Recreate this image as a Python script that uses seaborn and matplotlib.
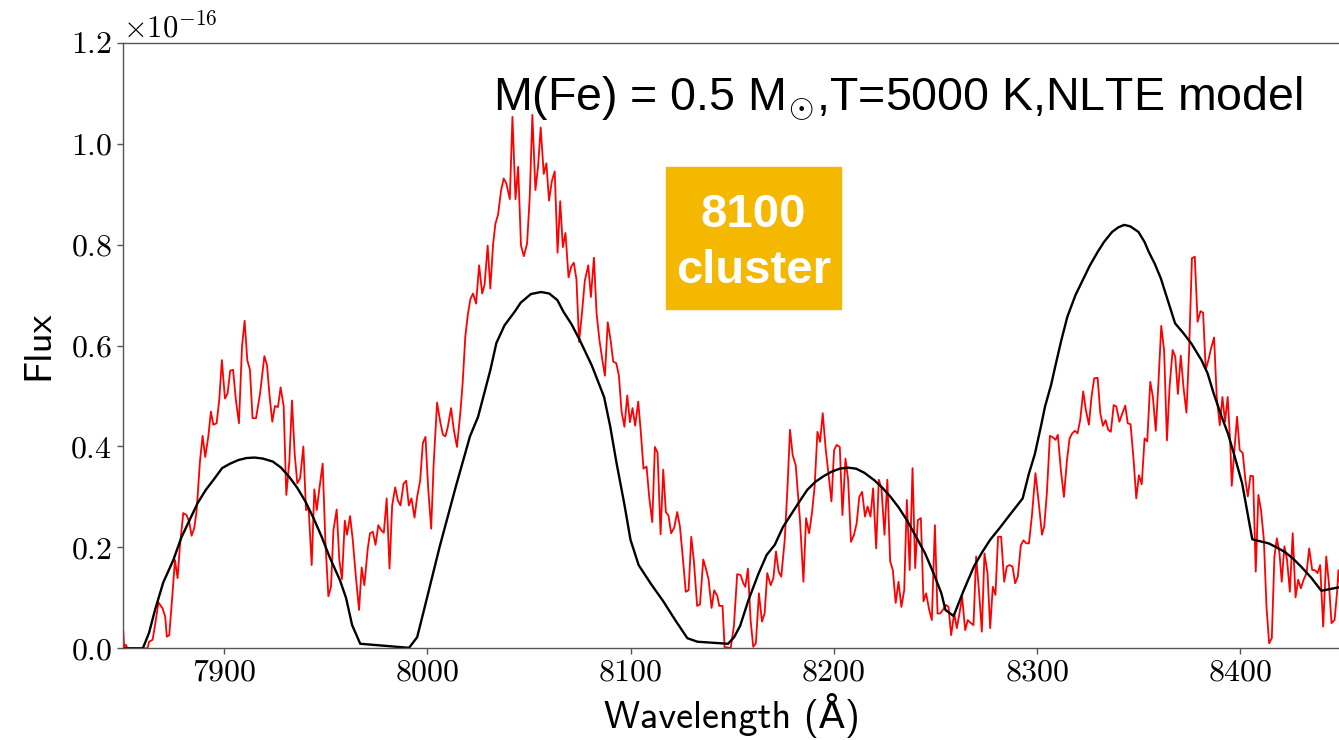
import numpy as np
import matplotlib
matplotlib.use('Agg')
import matplotlib.pyplot as plt
from matplotlib.patches import Rectangle
import seaborn as sns

# observed spectrum (flux in units of 1e-16)
wave_obs = [
    7850.0, 7850.8, 7851.6, 7852.4, 7862.3, 7863.1, 7864.8, 7865.9, 7867.7, 7869.7,
    7871.0, 7871.8, 7873.0, 7874.6, 7875.8, 7877.1, 7878.2, 7879.9, 7881.5, 7882.8,
    7884.0, 7885.3, 7886.5, 7888.1, 7889.4, 7890.7, 7892.2, 7893.5, 7894.7, 7896.3,
    7897.6, 7898.9, 7900.4, 7901.7, 7903.0, 7904.4, 7905.8, 7907.3, 7908.8, 7910.1,
    7911.4, 7912.7, 7914.0, 7915.7, 7917.7, 7919.8, 7921.1, 7922.4, 7923.7, 7925.0,
    7926.5, 7927.8, 7929.3, 7930.6, 7932.1, 7933.4, 7934.7, 7936.0, 7937.4, 7939.0,
    7940.3, 7941.6, 7943.1, 7944.4, 7945.6, 7946.9, 7948.5, 7949.8, 7951.3, 7952.6,
    7953.8, 7955.4, 7956.7, 7958.0, 7959.4, 7960.5, 7962.0, 7963.3, 7964.9, 7966.4,
    7967.7, 7969.0, 7970.7, 7971.8, 7973.2, 7974.5, 7975.9, 7977.3, 7978.6, 7980.0,
    7981.4, 7982.7, 7984.2, 7985.5, 7986.8, 7988.3, 7989.6, 7990.9, 7992.2, 7993.7,
    7995.0, 7996.5, 7997.8, 7999.1, 8000.4, 8001.9,
    8003.1, 8004.8, 8006.4, 8007.7, 8008.9, 8010.0, 8011.7, 8013.0, 8014.6, 8016.3,
    8017.4, 8018.7, 8019.9, 8021.2, 8022.5, 8024.0, 8025.5, 8027.0, 8028.2, 8029.7,
    8031.0, 8032.4, 8033.5, 8034.8, 8036.3, 8037.6, 8038.9, 8040.6, 8041.9, 8043.4,
    8044.7, 8046.1, 8047.5, 8049.1, 8050.4, 8051.7, 8053.2, 8054.5, 8055.8, 8057.3,
    8058.6, 8059.9, 8061.3, 8062.7, 8064.1, 8065.4, 8066.7, 8068.0, 8069.5, 8070.8,
    8072.1, 8073.4, 8074.7, 8076.2, 8077.5, 8079.2, 8080.5, 8082.0, 8083.3, 8084.7,
    8086.0, 8087.4, 8088.8, 8090.2, 8091.5, 8093.0, 8094.3, 8095.6, 8097.0, 8098.4,
    8099.7, 8101.0, 8102.3, 8103.8, 8105.1, 8106.4, 8107.9, 8109.2, 8110.7, 8112.0,
    8113.3, 8114.8, 8116.1, 8117.4, 8118.7, 8120.0, 8121.5, 8123.0, 8124.3, 8125.6,
    8127.2, 8128.6, 8129.9, 8131.2, 8132.8, 8134.2, 8135.8, 8137.1, 8138.4, 8139.9,
    8141.2, 8142.7, 8143.7, 8145.3, 8146.3, 8147.6, 8149.3, 8150.9, 8152.5,
    8154.2, 8155.5, 8156.5, 8157.8, 8159.1, 8160.4, 8161.7, 8163.2, 8164.7, 8166.0,
    8167.3, 8169.0, 8170.3, 8171.6, 8172.9, 8174.2, 8175.9, 8177.2, 8178.5, 8179.8,
    8181.3, 8183.4, 8185.1, 8186.4, 8187.9, 8189.3, 8190.6, 8192.0, 8193.3, 8194.6,
    8196.1, 8197.4, 8198.9, 8200.2, 8201.5, 8203.0, 8204.3, 8205.8, 8207.1, 8208.5,
    8210.0, 8211.3, 8212.6, 8214.0, 8215.4, 8216.7, 8218.1, 8219.4, 8220.9, 8222.2,
    8223.5, 8225.0, 8226.4, 8227.8, 8229.1, 8230.5, 8231.9, 8233.3, 8234.7, 8236.0,
    8237.4, 8238.8, 8240.1, 8241.4, 8242.9, 8244.2, 8245.5, 8247.0, 8248.3, 8249.8,
    8251.1, 8252.4, 8253.7, 8255.2, 8256.5, 8257.8, 8259.3, 8260.6, 8261.9, 8263.2,
    8264.7, 8266.0, 8267.5, 8268.8, 8270.1, 8271.6, 8272.9, 8274.2, 8275.7, 8277.0,
    8278.3, 8279.6, 8280.9, 8282.4, 8283.9, 8285.2, 8286.5, 8288.0, 8289.3, 8290.6,
    8292.1, 8293.4, 8294.8, 8296.1, 8297.5,
    8299.3, 8301.1, 8302.5, 8303.6, 8304.9, 8306.4, 8307.9, 8309.2, 8310.3, 8311.8,
    8313.3, 8314.8, 8316.1, 8317.4, 8318.7, 8320.0, 8321.3, 8322.8, 8324.1, 8325.6,
    8326.9, 8328.2, 8329.9, 8331.2, 8332.5, 8333.8, 8335.1, 8336.4, 8337.8, 8339.1,
    8340.6, 8341.9, 8343.5, 8344.7, 8346.1, 8347.6, 8348.9, 8350.2, 8351.6, 8353.0,
    8354.3, 8355.8, 8357.1, 8358.5, 8359.8, 8361.2, 8362.6, 8364.0, 8365.3, 8366.8,
    8368.1, 8369.4, 8370.8, 8372.2, 8373.6, 8374.9, 8376.3, 8377.7, 8379.1, 8380.5,
    8381.8, 8383.1, 8384.4, 8385.7, 8387.2, 8388.5, 8390.0, 8391.3, 8392.6, 8393.9,
    8395.2, 8395.9, 8397.2, 8398.5, 8399.8, 8401.3, 8402.6, 8403.8, 8405.1, 8406.4,
    8407.7, 8409.0, 8410.3, 8411.7, 8413.0, 8414.3, 8415.6, 8416.9, 8418.1, 8419.4,
    8420.5, 8421.8, 8423.1, 8424.5, 8425.9, 8427.3, 8428.6, 8429.9, 8431.2, 8432.7,
    8434.0, 8435.5, 8436.8, 8438.1, 8439.4, 8440.9, 8442.4, 8443.7, 8445.0, 8446.5,
    8447.8, 8448.4, 8449.3,
]
flux_obs = [
    0.060, 0.003, 0.007, 0.000, 0.000, 0.013, 0.017, 0.043, 0.091, 0.079,
    0.063, 0.023, 0.026, 0.109, 0.175, 0.139, 0.201, 0.268, 0.264, 0.251,
    0.223, 0.238, 0.274, 0.370, 0.421, 0.379, 0.419, 0.469, 0.443, 0.446,
    0.492, 0.571, 0.495, 0.505, 0.550, 0.552, 0.492, 0.446, 0.598, 0.649,
    0.571, 0.552, 0.456, 0.456, 0.505, 0.579, 0.561, 0.499, 0.449, 0.480,
    0.478, 0.517, 0.480, 0.304, 0.370, 0.491, 0.387, 0.327, 0.337, 0.400,
    0.274, 0.277, 0.165, 0.315, 0.274, 0.317, 0.366, 0.215, 0.103, 0.122,
    0.234, 0.275, 0.175, 0.137, 0.253, 0.225, 0.262, 0.215, 0.139, 0.076,
    0.160, 0.125, 0.198, 0.228, 0.231, 0.205, 0.244, 0.234, 0.229, 0.297,
    0.158, 0.283, 0.319, 0.293, 0.283, 0.326, 0.332, 0.283, 0.297, 0.259,
    0.300, 0.333, 0.407, 0.419, 0.319, 0.237,
    0.363, 0.487, 0.448, 0.423, 0.420, 0.437, 0.476, 0.434, 0.399, 0.469,
    0.526, 0.618, 0.660, 0.692, 0.703, 0.683, 0.759, 0.703, 0.721, 0.798,
    0.713, 0.802, 0.841, 0.859, 0.907, 0.931, 0.921, 0.890, 1.053, 0.890,
    0.954, 0.798, 0.777, 0.802, 0.894, 1.057, 0.908, 0.954, 1.032, 0.940,
    0.961, 0.887, 0.926, 0.945, 0.784, 0.886, 0.795, 0.823, 0.735, 0.756,
    0.764, 0.731, 0.607, 0.668, 0.728, 0.759, 0.696, 0.774, 0.664, 0.611,
    0.575, 0.540, 0.646, 0.611, 0.568, 0.565, 0.540, 0.469, 0.439, 0.501,
    0.448, 0.476, 0.441, 0.489, 0.427, 0.356, 0.360, 0.300, 0.250, 0.399,
    0.388, 0.226, 0.354, 0.270, 0.263, 0.228, 0.239, 0.270, 0.242, 0.186,
    0.112, 0.115, 0.221, 0.172, 0.084, 0.087, 0.176, 0.158, 0.137, 0.080,
    0.115, 0.104, 0.084, 0.084, 0.002, 0.002, 0.000, 0.045, 0.147,
    0.145, 0.129, 0.122, 0.158, 0.056, 0.003, 0.010, 0.109, 0.053, 0.069,
    0.149, 0.125, 0.139, 0.192, 0.152, 0.142, 0.215, 0.314, 0.433, 0.383,
    0.363, 0.254, 0.132, 0.258, 0.228, 0.268, 0.320, 0.429, 0.409, 0.466,
    0.393, 0.347, 0.291, 0.393, 0.403, 0.399, 0.264, 0.376, 0.334, 0.211,
    0.225, 0.248, 0.300, 0.310, 0.261, 0.281, 0.261, 0.317, 0.198, 0.334,
    0.317, 0.225, 0.334, 0.172, 0.155, 0.090, 0.132, 0.082, 0.115, 0.294,
    0.155, 0.357, 0.159, 0.254, 0.258, 0.093, 0.109, 0.076, 0.056, 0.244,
    0.069, 0.069, 0.076, 0.086, 0.082, 0.026, 0.069, 0.040, 0.069, 0.102,
    0.036, 0.056, 0.050, 0.046, 0.182, 0.109, 0.033, 0.188, 0.149, 0.040,
    0.122, 0.106, 0.221, 0.221, 0.132, 0.162, 0.165, 0.162, 0.129, 0.142,
    0.204, 0.214, 0.208, 0.208, 0.261,
    0.347, 0.281, 0.225, 0.241, 0.307, 0.421, 0.418, 0.413, 0.423, 0.353,
    0.300, 0.373, 0.416, 0.426, 0.431, 0.426, 0.452, 0.509, 0.472, 0.443,
    0.499, 0.535, 0.536, 0.466, 0.441, 0.452, 0.433, 0.429, 0.482, 0.479,
    0.449, 0.464, 0.481, 0.446, 0.444, 0.373, 0.297, 0.343, 0.325, 0.416,
    0.410, 0.528, 0.498, 0.431, 0.525, 0.639, 0.591, 0.412, 0.518, 0.591,
    0.578, 0.504, 0.580, 0.515, 0.467, 0.588, 0.773, 0.776, 0.647, 0.668,
    0.665, 0.552, 0.571, 0.594, 0.616, 0.498, 0.442, 0.498, 0.449, 0.498,
    0.403, 0.322, 0.393, 0.459, 0.393, 0.387, 0.334, 0.301, 0.342, 0.341,
    0.152, 0.304, 0.274, 0.215, 0.082, 0.010, 0.020, 0.182, 0.218, 0.188,
    0.132, 0.202, 0.176, 0.112, 0.228, 0.101, 0.136, 0.119, 0.135, 0.149,
    0.198, 0.155, 0.155, 0.149, 0.165, 0.043, 0.182, 0.129, 0.050, 0.056,
    0.115, 0.155, 0.122,
]

# NLTE model spectrum (flux in units of 1e-16)
wave_model = [
    7850, 7860, 7863, 7866, 7870, 7875, 7879, 7883, 7887, 7891,
    7895, 7899, 7903, 7907, 7911, 7915, 7919, 7924, 7928, 7932,
    7936, 7940, 7944, 7948, 7952, 7957, 7960, 7963, 7967, 7991,
    7995, 7998, 8002, 8006, 8010, 8014, 8018, 8021, 8025, 8028,
    8031, 8034, 8038, 8043, 8046, 8051, 8056, 8060, 8064, 8067,
    8071, 8075, 8081, 8087, 8090, 8093, 8097, 8100, 8104, 8110,
    8116, 8122, 8128, 8133, 8148, 8151, 8154, 8158, 8163, 8167,
    8171, 8175, 8179, 8183, 8187, 8191, 8195, 8199, 8203, 8207,
    8211, 8215, 8220, 8224, 8228, 8232, 8236, 8240, 8245, 8249,
    8253, 8255, 8259, 8264, 8269, 8273, 8277, 8282, 8286, 8293,
    8296, 8299, 8302, 8304, 8307, 8309, 8312, 8315, 8319, 8323,
    8326, 8330, 8333, 8337, 8340, 8343, 8346, 8350, 8353, 8355,
    8358, 8361, 8364, 8368, 8372, 8376, 8381, 8384, 8387, 8391,
    8394, 8397, 8401, 8404, 8406, 8410, 8414, 8418, 8422, 8426,
    8430, 8435, 8440, 8445, 8450,
]
flux_model = [
    0.000, 0.000, 0.030, 0.076, 0.130, 0.175, 0.220, 0.254, 0.288, 0.314,
    0.335, 0.357, 0.366, 0.373, 0.377, 0.378, 0.376, 0.370, 0.358, 0.340,
    0.318, 0.291, 0.258, 0.221, 0.180, 0.135, 0.100, 0.046, 0.009, 0.001,
    0.022, 0.070, 0.135, 0.200, 0.260, 0.320, 0.377, 0.420, 0.459, 0.505,
    0.551, 0.605, 0.640, 0.667, 0.685, 0.702, 0.706, 0.703, 0.690, 0.667,
    0.642, 0.611, 0.560, 0.498, 0.440, 0.370, 0.285, 0.215, 0.165, 0.128,
    0.094, 0.056, 0.020, 0.013, 0.009, 0.022, 0.045, 0.095, 0.148, 0.185,
    0.205, 0.240, 0.265, 0.290, 0.314, 0.330, 0.341, 0.350, 0.356, 0.358,
    0.356, 0.348, 0.333, 0.318, 0.300, 0.279, 0.254, 0.225, 0.188, 0.150,
    0.109, 0.076, 0.064, 0.115, 0.162, 0.190, 0.215, 0.240, 0.261, 0.297,
    0.345, 0.385, 0.440, 0.479, 0.522, 0.558, 0.610, 0.657, 0.700, 0.733,
    0.758, 0.786, 0.805, 0.825, 0.834, 0.839, 0.836, 0.825, 0.805, 0.786,
    0.762, 0.733, 0.695, 0.644, 0.625, 0.604, 0.571, 0.545, 0.505, 0.458,
    0.426, 0.385, 0.327, 0.260, 0.216, 0.212, 0.208, 0.200, 0.191, 0.178,
    0.162, 0.140, 0.114, 0.118, 0.122,
]

xticks = [7900, 8000, 8100, 8200, 8300, 8400]
yticks = [0.0, 0.2, 0.4, 0.6, 0.8, 1.0, 1.2]
scale = 1e-16

sns.set_style('ticks')
plt.rcParams['font.family'] = 'cmr10'
plt.rcParams['mathtext.fontset'] = 'cm'
plt.rcParams['axes.formatter.use_mathtext'] = True
plt.rcParams['text.color'] = 'black'
plt.rcParams['axes.labelcolor'] = 'black'
plt.rcParams['xtick.labelcolor'] = 'black'
plt.rcParams['ytick.labelcolor'] = 'black'

fig = plt.figure(figsize=(13.39, 7.40), dpi=100)
ax = fig.add_axes([0.0915, 0.1239, 0.9105, 0.8184])

sns.lineplot(x=wave_obs, y=np.array(flux_obs) * scale, color='red', lw=1.3,
             sort=False, estimator=None, ax=ax)
sns.lineplot(x=wave_model, y=np.array(flux_model) * scale, color='black', lw=1.7,
             sort=False, estimator=None, ax=ax)

ax.set_xlim(7850, 8450)
ax.set_ylim(0, 1.2e-16)
ax.set_xticks(xticks)
ax.set_yticks(np.array(yticks) * scale)
ax.tick_params(labelsize=23, length=4, width=1, color='#555555')
for sp in ax.spines.values():
    sp.set_color('#555555')
    sp.set_linewidth(1.0)
ax.yaxis.get_offset_text().set_fontsize(22)
ax.yaxis.get_offset_text().set_color('black')

sans = ['cmss10', 'DejaVu Sans']
ax.set_xlabel('Wavelength (Å)', family=sans, fontsize=27.5, labelpad=5)
ax.set_ylabel('Flux', family=sans, fontsize=28, labelpad=10)

# model label
fig.text(493 / 1339, 1 - 110 / 740, r'M(Fe) = 0.5 M$_{\odot}$,T=5000 K,NLTE model',
         family=['Liberation Sans', 'DejaVu Sans'], fontsize=33.5, va='baseline',
         color='black')

# orange "8100 cluster" tag
fig.add_artist(Rectangle((666 / 1339, 1 - 309 / 740), 175 / 1339, 142 / 740,
                         transform=fig.transFigure, color='#F5B800', zorder=5))
fig.text(753.5 / 1339, 1 - 243 / 740, '8100\ncluster', ha='center', va='center',
         color='white', fontweight='bold', fontsize=34, linespacing=1.35,
         family=['Liberation Sans', 'DejaVu Sans'], zorder=6)

fig.savefig('out.png', dpi=100)
